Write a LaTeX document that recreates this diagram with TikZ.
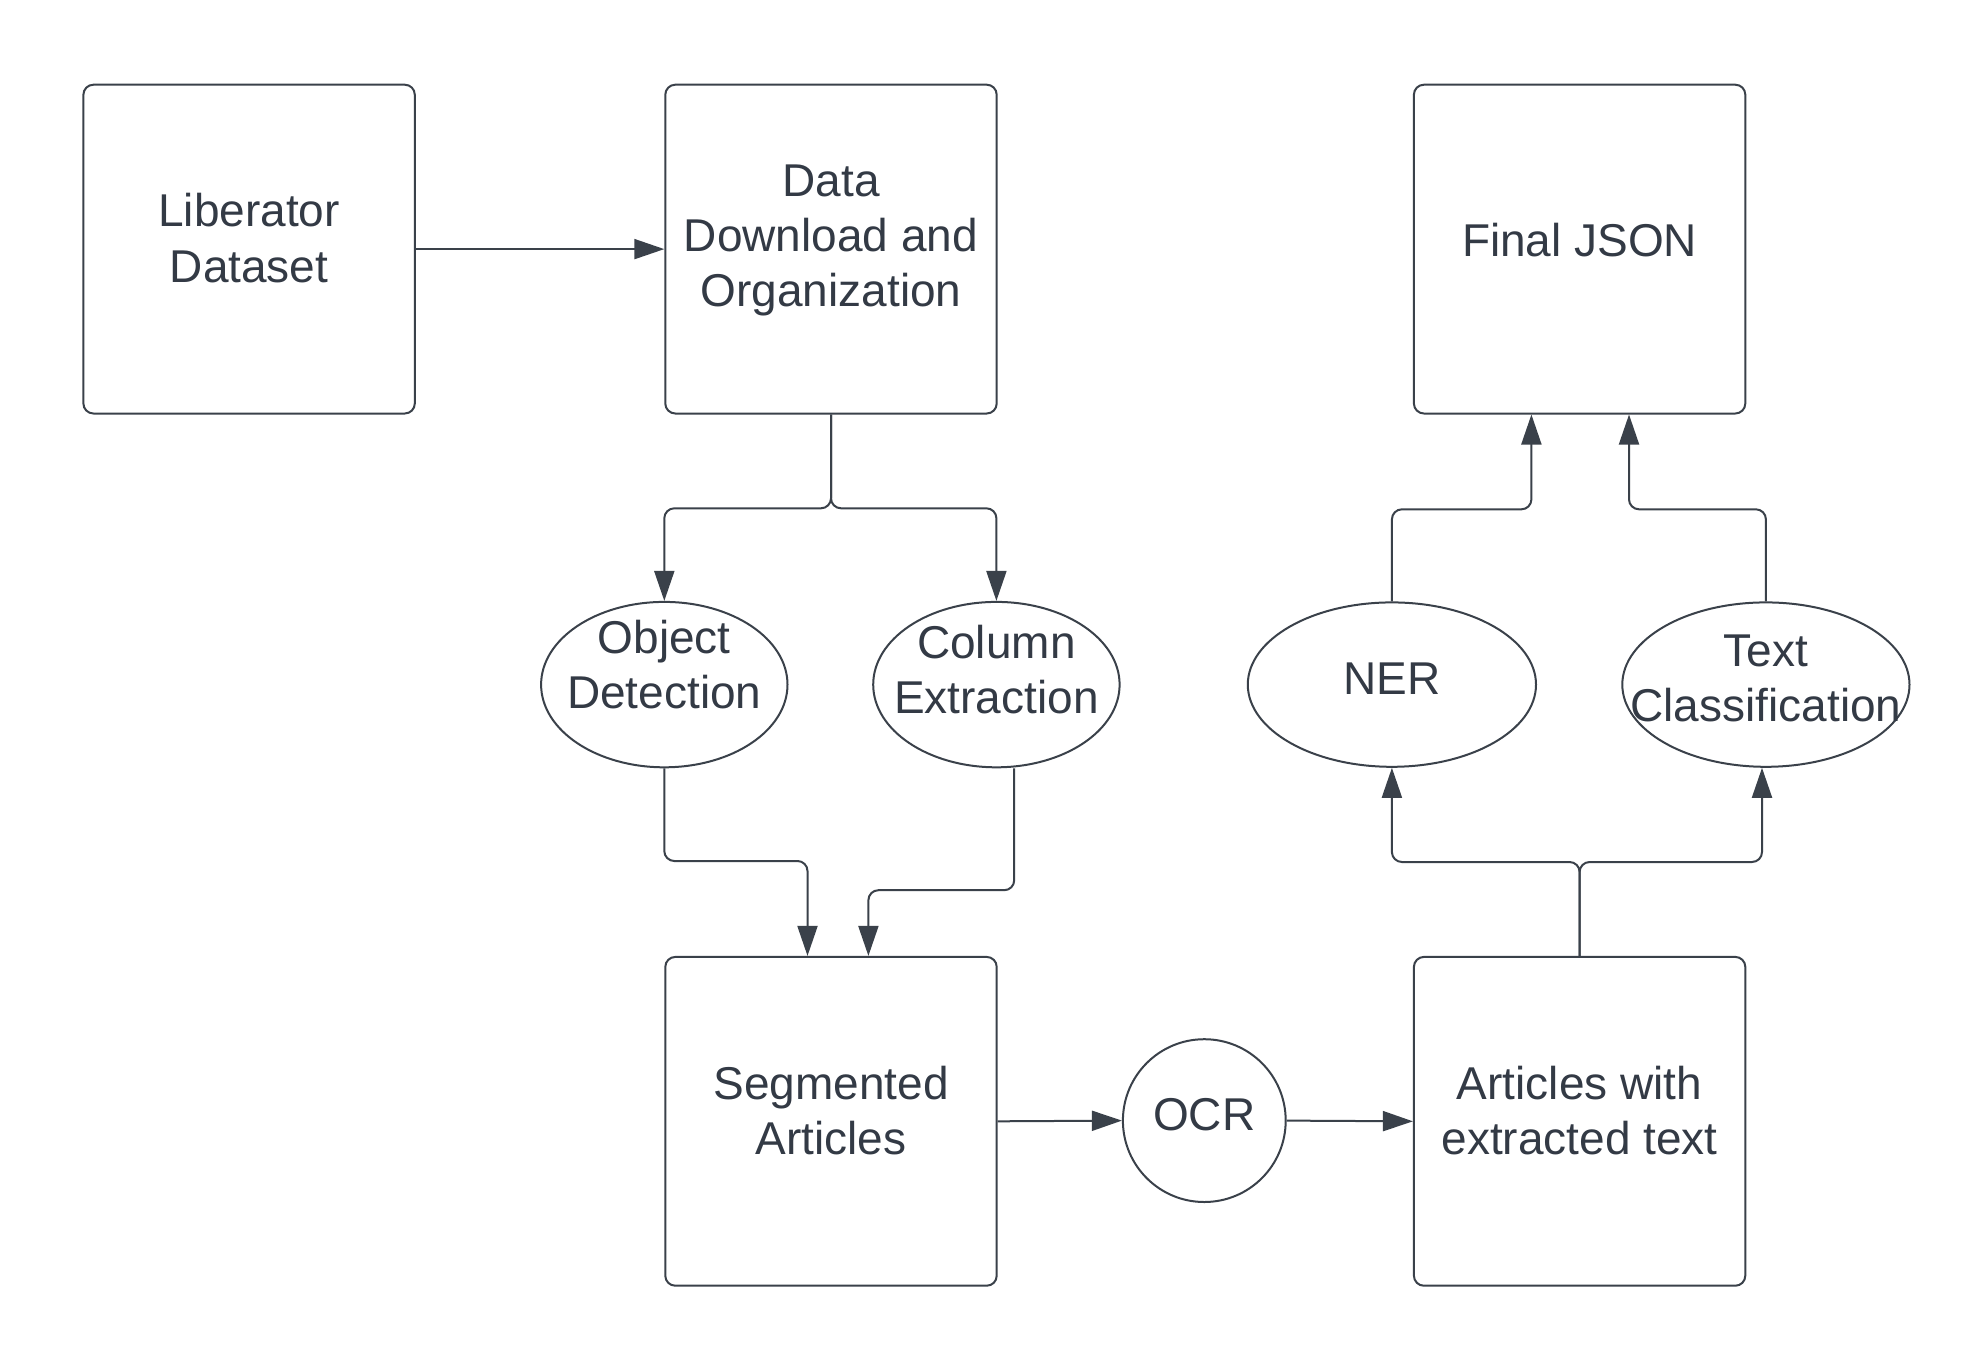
\documentclass[tikz,border=0pt]{standalone}
\usepackage{fontspec}
\setmainfont{Liberation Sans}
\usetikzlibrary{arrows.meta,shapes.geometric,calc}
\definecolor{ln}{HTML}{3A414A}
\definecolor{tx}{HTML}{333A45}
\begin{document}
\begin{tikzpicture}[x=0.5pt,y=-0.5pt,
 lbl/.style={font=\fontsize{23pt}{27.6pt}\selectfont, text=tx, align=center, inner sep=0pt},
 box/.style={draw=ln, line width=1pt, rounded corners=5pt, minimum width=165.7pt, minimum height=164.4pt, inner sep=0pt},
 oval/.style={draw=ln, line width=1pt, ellipse, inner sep=0pt},
 conn/.style={draw=ln, line width=1pt, rounded corners=5pt, -{Triangle[length=15pt,width=10pt]}},
]
\useasboundingbox (0,0) rectangle (1986,1366);
% boxes
\node[box] (lib) at (249.1,249.1) {};
\node[box] (data) at (831.0,249.1) {};
\node[box] (fj) at (1579.6,249.1) {};
\node[box] (seg) at (831.0,1121.3) {};
\node[box] (art) at (1579.6,1121.3) {};
% ovals
\node[oval, minimum width=123.2pt, minimum height=82.7pt] (od) at (664.3,684.6) {};
\node[oval, minimum width=123.2pt, minimum height=82.7pt] (ce) at (996.4,684.6) {};
\node[oval, minimum width=144.1pt, minimum height=82.2pt] (ner) at (1391.9,684.6) {};
\node[oval, minimum width=143.6pt, minimum height=82.2pt] (tc) at (1765.9,684.6) {};
\node[oval, minimum width=81.4pt, minimum height=81.4pt] (ocr) at (1204.3,1120.6) {};
% labels
\node[lbl] (tlib) at ($(lib.center)+(0,-11)$) {Liberator\\Dataset};
\node[lbl] (tdata) at ($(data.center)+(0,-8.5)$) {Data\\Download and\\Organization};
\node[lbl] (tfj) at ($(fj.center)+(0,-9.5)$) {Final JSON};
\node[lbl] (tseg) at ($(seg.center)+(0,-11)$) {Segmented\\Articles};
\node[lbl] (tart) at ($(art.center)+(0,-11)$) {Articles with\\extracted text};
\node[lbl] (tod) at ($(od.center)+(0,-20)$) {Object\\Detection};
\node[lbl] (tce) at ($(ce.center)+(0,-15)$) {Column\\Extraction};
\node[lbl] (tner) at ($(ner.center)+(0,-6)$) {NER};
\node[lbl] (ttc) at ($(tc.center)+(0,-6)$) {Text\\Classification};
\node[lbl] (tocr) at ($(ocr.center)+(0,-6)$) {OCR};
% connectors
\draw[conn] (lib.east) -- (data.west);
\draw[conn] (data.south) |- (od.north |- 0,508.3) -- (od.north);
\draw[conn] (data.south) |- (ce.north |- 0,508.3) -- (ce.north);
\draw[conn] (od.south) |- ($(seg.north)+(-23.5,-94.9)$) -- ($(seg.north)+(-23.5,0)$);
\draw[conn] ($(ce.south)+(17.8,0)$) |- ($(seg.north)+(37.4,-65.7)$) -- ($(seg.north)+(37.4,0)$);
\draw[conn] (art.north) |- (ner.south |- 0,862) -- (ner.south);
\draw[conn] (art.north) |- ($(tc.south |- 0,862)+(-3.9,0)$) -- ($(tc.south)+(-3.9,0)$);
\draw[conn] (ner.north) |- ($(fj.south)+(-48.2,94.8)$) -- ($(fj.south)+(-48.2,0)$);
\draw[conn] (tc.north) |- ($(fj.south)+(49.4,94.8)$) -- ($(fj.south)+(49.4,0)$);
\draw[conn] (seg.east) -- (ocr.west);
\draw[conn] (ocr.east) -- (art.west);
\end{tikzpicture}
\end{document}
